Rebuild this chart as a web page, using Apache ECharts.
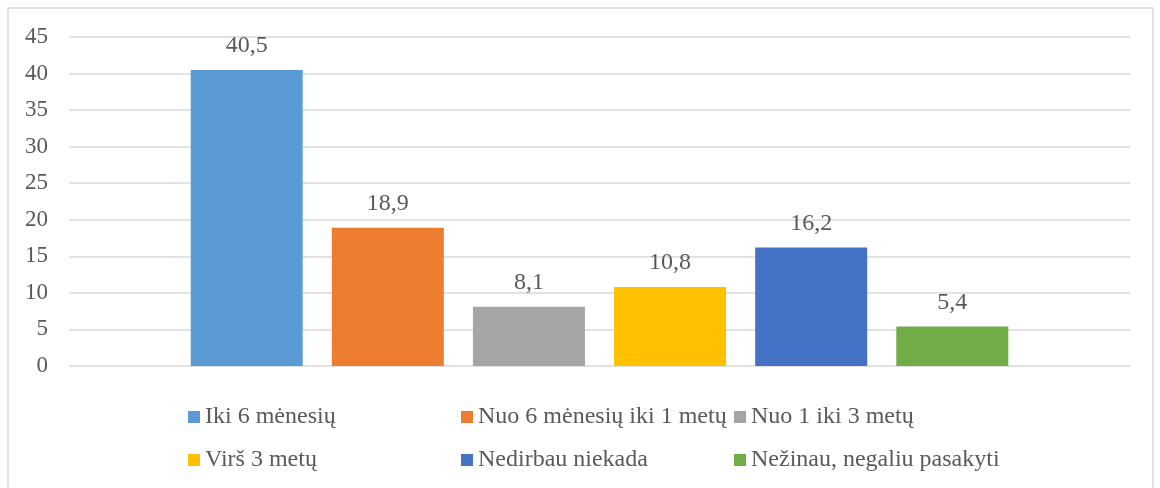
<!DOCTYPE html>
<html lang="lt">
<head>
    <meta charset="UTF-8">
    <title>Bar chart</title>
    <script src="https://cdn.jsdelivr.net/npm/echarts@6/dist/echarts.min.js"></script>
    <style>
        html, body { margin: 0; padding: 0; background: #fff; }
        #chart { width: 1160px; height: 488px; }
    </style>
</head>
<body>
    <div id="chart"></div>
    <script>
        // data
        const seriesNames = ['Iki 6 mėnesių', 'Nuo 6 mėnesių iki 1 metų', 'Nuo 1 iki 3 metų',
            'Virš 3 metų', 'Nedirbau niekada', 'Nežinau, negaliu pasakyti'];
        const seriesValues = [40.5, 18.9, 8.1, 10.8, 16.2, 5.4];
        const colors = ['#5B9BD5', '#ED7D31', '#A5A5A5', '#FFC000', '#4472C4', '#70AD47'];
        const yTicks = [0, 5, 10, 15, 20, 25, 30, 35, 40, 45];

        const font = "'Liberation Serif'";
        const textColor = '#595959';

        let chart = echarts.init(document.getElementById('chart'));

        let series = seriesNames.map(function (name, i) {
            return {
                name: name,
                type: 'bar',
                data: [seriesValues[i]],
                barWidth: 112,
                barGap: '26%',
                itemStyle: { color: colors[i] },
                label: {
                    show: true,
                    position: 'top',
                    distance: 12,
                    color: textColor,
                    fontFamily: font,
                    fontSize: 24,
                    formatter: function (p) {
                        return String(p.value).replace('.', ',');
                    }
                }
            };
        });

        // one legend per item: two rows of three fixed columns
        let legends = seriesNames.map(function (name, i) {
            return {
                data: [name],
                left: 183 + (i % 3) * 273,
                top: 400 + Math.floor(i / 3) * 43,
                itemWidth: 12,
                itemHeight: 12,
                icon: 'rect',
                selectedMode: false,
                textStyle: {
                    color: textColor,
                    fontFamily: font,
                    fontSize: 24
                }
            };
        });

        let options = {
            animation: false,
            backgroundColor: '#fff',
            grid: { left: 69, right: 30, top: 37, bottom: 122 },
            legend: legends,
            xAxis: {
                type: 'category',
                data: [''],
                axisLine: { show: false },
                axisTick: { show: false },
                axisLabel: { show: false }
            },
            yAxis: {
                type: 'value',
                min: yTicks[0],
                max: yTicks[yTicks.length - 1],
                interval: 5,
                axisLine: { show: false },
                axisTick: { show: false },
                axisLabel: {
                    color: textColor,
                    fontFamily: font,
                    fontSize: 23,
                    margin: 21
                },
                splitLine: { lineStyle: { color: '#d9d9d9', width: 1.5 } }
            },
            graphic: [{
                type: 'rect',
                shape: { x: 8, y: 8, width: 1145, height: 490 },
                style: { fill: 'none', stroke: '#d9d9d9', lineWidth: 1.5 },
                silent: true
            }],
            series: series
        };
        chart.setOption(options);
    </script>
</body>
</html>
